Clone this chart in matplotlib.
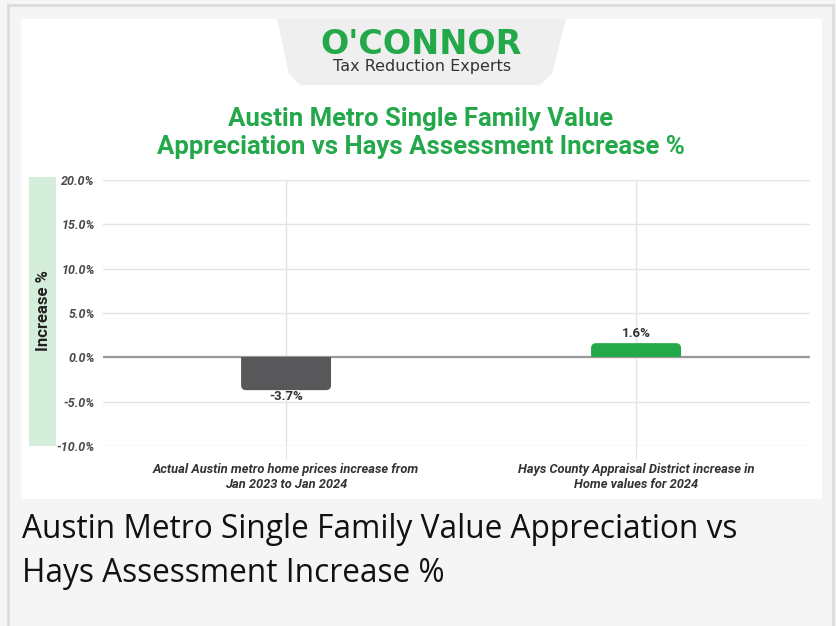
import matplotlib.pyplot as plt
from matplotlib.patches import Rectangle, Polygon, FancyBboxPatch
from matplotlib.ticker import FuncFormatter

# data
categories = [
    "Actual Austin metro home prices increase from\nJan 2023 to Jan 2024",
    "Hays County Appraisal District increase in\nHome values for 2024",
]
values = [-3.7, 1.6]
bar_colors = ["#58585a", "#23a84a"]
y_ticks = [-10, -5, 0, 5, 10, 15, 20]

title = "Austin Metro Single Family Value\nAppreciation vs Hays Assessment Increase %"
caption_lines = ["Austin Metro Single Family Value Appreciation vs",
                 "Hays Assessment Increase %"]

W, H = 836, 626
fig = plt.figure(figsize=(W / 100, H / 100), dpi=100)
fig.patch.set_facecolor("#f5f5f5")


def fx(px):
    return px / W


def fy(py):
    return 1 - py / H


# outer border
for xs, ys in [((8, 8), (5, H)), ((8, 833), (5, 5)), ((833, 833), (5, H))]:
    fig.add_artist(plt.Line2D([fx(x) for x in xs], [fy(y) for y in ys],
                              color="#dcdcdc", lw=2, zorder=-5))

# white panel
fig.add_artist(Rectangle((fx(21), fy(499)), fx(822) - fx(21), fy(19) - fy(499),
                         transform=fig.transFigure, facecolor="white",
                         edgecolor="none", zorder=-5))

# logo tab
tab = [(277, 19), (566, 19), (552, 74), (540, 85), (300, 85), (289, 74)]
fig.add_artist(Polygon([(fx(x), fy(y)) for x, y in tab], closed=True,
                       transform=fig.transFigure, facecolor="#efefef",
                       edgecolor="none", zorder=-4))
fig.text(fx(421), fy(44), "O'CONNOR", ha="center", va="center", color="#23a84a",
         fontsize=24, fontweight="bold", family="DejaVu Sans")
fig.text(fx(422), fy(67), "Tax Reduction Experts", ha="center", va="center",
         color="#333333", fontsize=11.5, family="DejaVu Sans")

# title
fig.text(fx(421), fy(133), title, ha="center", va="center", color="#23a84a",
         fontsize=18.5, fontweight="bold", family="Roboto", linespacing=1.2)

# y label band
fig.add_artist(Rectangle((fx(29), fy(446)), fx(56) - fx(29), fy(177) - fy(446),
                         transform=fig.transFigure, facecolor="#d5eedc",
                         edgecolor="none", zorder=-4))
fig.text(fx(43), fy(311), "Increase %", rotation=90, ha="center", va="center",
         color="#222222", fontsize=12, fontweight="bold", family="Roboto")

# axes
ax = fig.add_axes([fx(103), fy(446), fx(810) - fx(103), fy(180) - fy(446)])
ax.set_facecolor("none")
x = list(range(len(categories)))
bars = ax.bar(x, values, width=0.257, color=bar_colors, zorder=3)
ax.set_xlim(-0.523, 1.497)
ax.set_ylim(-10, 20)

# rounded outer corners (same geometry as the bars)
x_per_px = (1.497 + 0.523) / (810 - 103)
y_per_px = 30 / (446 - 180)
r = 5 * x_per_px
asp = y_per_px / x_per_px
for b in bars:
    b.set_visible(False)
    h = b.get_height()
    ry = r * asp
    y0, y1 = (-ry, h) if h > 0 else (h, ry)
    fb = FancyBboxPatch((b.get_x(), y0), b.get_width(), y1 - y0,
                        boxstyle=f"round,pad=0,rounding_size={r}",
                        mutation_aspect=asp, facecolor=b.get_facecolor(),
                        edgecolor="none", zorder=3)
    ax.add_patch(fb)
    clip = Rectangle((b.get_x() - 1, 0), b.get_width() + 2, h + (1 if h > 0 else -1),
                     transform=ax.transData)
    fb.set_clip_path(clip)

ax.set_yticks(y_ticks)
ax.yaxis.set_major_formatter(FuncFormatter(lambda v, p: f"{v:.1f}%"))
ax.grid(axis="y", color="#e3e3e3", lw=1, zorder=0)
ax.grid(axis="x", color="#e3e3e3", lw=1, zorder=0)
ax.axhline(0, color="#9a9a9a", lw=1.6, zorder=2)
for s in ax.spines.values():
    s.set_visible(False)
ax.set_xticks(x)
ax.set_xticklabels(categories, fontsize=9.3, fontweight="bold", style="italic",
                   color="#333333", family="Roboto", linespacing=1.25)
ax.tick_params(axis="x", length=9, color="#e3e3e3", pad=3)
ax.tick_params(axis="y", length=0, pad=6)
for lab in ax.get_yticklabels():
    lab.set_fontsize(9)
    lab.set_fontweight("bold")
    lab.set_fontstyle("italic")
    lab.set_color("#4a4a4a")
    lab.set_family("Roboto")

for xi, v in zip(x, values):
    ax.text(xi, v + (0.4 if v > 0 else 0.0), f"{v:.1f}%", ha="center",
            va="bottom" if v > 0 else "top", fontsize=9.5,
            fontweight="bold", color="#333333", family="Roboto", zorder=4)

# caption
for i, line in enumerate(caption_lines):
    fig.text(fx(22), fy(529 + 44 * i), line, ha="left", va="center",
             color="#111111", fontsize=22.8, family="Open Sans")

fig.savefig("out.png", dpi=100, facecolor=fig.get_facecolor())
